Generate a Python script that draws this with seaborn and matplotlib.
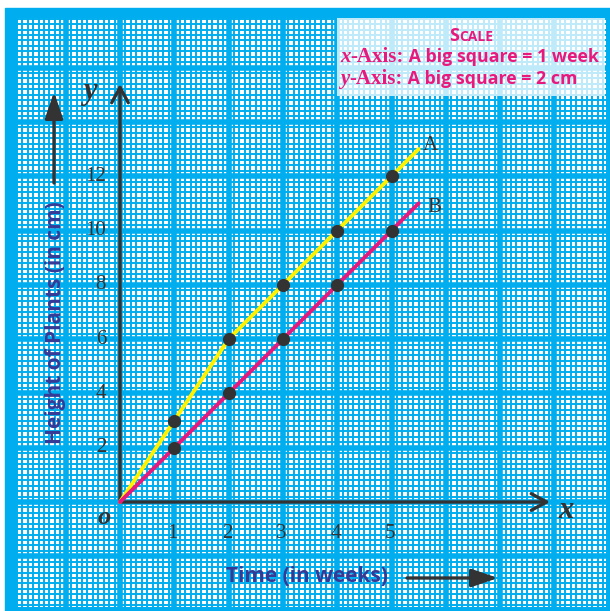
import numpy as np
import matplotlib
matplotlib.use("Agg")
import matplotlib.pyplot as plt
from matplotlib.patches import Rectangle
import seaborn as sns

# data
weeks = [1, 2, 3, 4, 5]
height_a = [3, 6, 8, 10, 12]
height_b = [2, 4, 6, 8, 10]
line_weeks = [0, 1, 2, 3, 4, 5, 5.5]
line_a = [0, 3, 6, 8, 10, 12, 13]
line_b = [0, 2, 4, 6, 8, 10, 11]
x_ticks = [1, 2, 3, 4, 5]
y_ticks = [2, 4, 6, 8, 10, 12]

BLUE = "#00aeef"
NAVY = "#363a95"
PINK = "#e8197d"
YELLOW = "#fff200"
DARK = "#333333"
SERIF = "Liberation Serif"
SANS = "Open Sans"

sns.set_style("white")

W, H = 610, 611
OX, OY, UX = 120, 502, 54.3   # origin in pixels, pixels per big square


def px(x, y):
    # pixel position -> data position (weeks, cm)
    return (x - OX) / UX, (OY - y) / UX * 2


def fp(x, y):
    # pixel position -> figure fraction
    return x / W, 1 - y / H


fig = plt.figure(figsize=(W / 100, H / 100), dpi=100)
fig.patch.set_facecolor("white")
fig.patches.append(Rectangle(fp(5, 611), 1, (611 - 8) / H, transform=fig.transFigure,
                             color=BLUE, zorder=-5))

ax = fig.add_axes([17 / W, 1 - 607 / H, (606 - 17) / W, (607 - 18) / H])
ax.set_facecolor("white")
x0, y0 = px(17, 607)
x1, y1 = px(606, 18)
ax.set_xticks([])
ax.set_yticks([])
for sp in ax.spines.values():
    sp.set_visible(False)

# graph paper
minor_x = np.arange(np.floor(x0), x1 + 0.1, 0.1)
minor_y = np.arange(np.floor(y0 / 2) * 2, y1 + 0.2, 0.2)
ax.vlines(minor_x, y0, y1, color=BLUE, lw=1.4, zorder=1)
ax.hlines(minor_y, x0, x1, color=BLUE, lw=1.4, zorder=1)
major_x = np.arange(np.floor(x0), x1 + 1, 1)
major_y = np.arange(np.floor(y0 / 2) * 2, y1 + 2, 2)
ax.vlines(major_x, y0, y1, color=BLUE, lw=4, zorder=1)
ax.hlines(major_y, x0, x1, color=BLUE, lw=4, zorder=1)

# axes with open arrowheads
ax.annotate("", xy=px(550, OY), xytext=(0, 0),
            arrowprops=dict(arrowstyle="->, head_length=1.1, head_width=0.6",
                            lw=2.4, color=DARK, shrinkA=0, shrinkB=0), zorder=3)
ax.annotate("", xy=px(OX, 84), xytext=(0, 0),
            arrowprops=dict(arrowstyle="->, head_length=1.1, head_width=0.6",
                            lw=2.4, color=DARK, shrinkA=0, shrinkB=0), zorder=3)

# lines and points
sns.lineplot(x=line_weeks, y=line_a, color=YELLOW, lw=2.8, ax=ax, zorder=4)
sns.lineplot(x=line_weeks, y=line_b, color=PINK, lw=2.8, ax=ax, zorder=4)
sns.scatterplot(x=weeks, y=height_a, color=DARK, s=90, linewidth=0, ax=ax, zorder=5)
sns.scatterplot(x=weeks, y=height_b, color=DARK, s=90, linewidth=0, ax=ax, zorder=5)
ax.set_xlim(x0, x1)
ax.set_ylim(y0, y1)
ax.set_xlabel("")
ax.set_ylabel("")

ax.text(*px(430, 146), "A", family=SERIF, fontsize=15, color=DARK, ha="center", va="center")
ax.text(*px(434, 207), "B", family=SERIF, fontsize=15, color=DARK, ha="center", va="center")

# tick numbers
for t in x_ticks:
    ax.text(t - 0.03, px(0, 534)[1], str(t), family=SERIF, fontsize=15, color=DARK,
            ha="center", va="center")
for t in y_ticks:
    ax.text(px(106, 0)[0], t, str(t), family=SERIF, fontsize=15, color=DARK,
            ha="right", va="center")
ax.text(*px(104, 518), "o", family=SERIF, fontsize=19, style="italic", weight="bold",
        color=DARK, ha="center", va="center")
ax.text(*px(566, 511), "x", family=SERIF, fontsize=22, style="italic", weight="bold",
        color=DARK, ha="center", va="center")
ax.text(*px(90, 92), "y", family=SERIF, fontsize=22, style="italic", weight="bold",
        color=DARK, ha="center", va="center")

# axis titles with arrows
ax.text(*px(55, 323), "Height of Plants (in cm)", family=SANS, weight="bold", fontsize=15,
        color=NAVY, rotation=90, ha="center", va="center", zorder=6)
ax.text(*px(307, 577), "Time (in weeks)", family=SANS, weight="bold", fontsize=15,
        color=NAVY, ha="center", va="center", zorder=6)
ax.annotate("", xy=px(54, 92), xytext=px(54, 183),
            arrowprops=dict(arrowstyle="-|>, head_length=1.6, head_width=0.55",
                            lw=2.4, color=DARK, shrinkA=0, shrinkB=0))
ax.annotate("", xy=px(498, 578), xytext=px(407, 578),
            arrowprops=dict(arrowstyle="-|>, head_length=1.6, head_width=0.55",
                            lw=2.4, color=DARK, shrinkA=0, shrinkB=0))

# scale box
box = Rectangle(fp(337, 96), (605 - 337) / W, (96 - 18) / H, transform=fig.transFigure,
                facecolor="white", alpha=0.75, edgecolor="none", zorder=6)
fig.patches.append(box)
fig.text(*fp(449, 41), "S", family=SANS, weight="bold", fontsize=13, color=PINK,
         va="baseline", zorder=7)
fig.text(*fp(459, 41), "CALE", family=SANS, weight="bold", fontsize=10, color=PINK,
         va="baseline", zorder=7)
for yy, axis_name, rest in [(62, "x", " A big square = 1 week"), (84, "y", " A big square = 2 cm")]:
    t1 = fig.text(*fp(340, yy), axis_name, family=SERIF, style="italic", weight="bold",
                  fontsize=15, color=PINK, va="baseline", zorder=7)
    t2 = fig.text(0, 0, "-Axis:", family=SERIF, weight="bold", fontsize=15, color=PINK,
                  va="baseline", zorder=7)
    fig.canvas.draw()
    bb = t1.get_window_extent()
    t2.set_position((bb.x1 / W, fp(0, yy)[1]))
    fig.canvas.draw()
    bb2 = t2.get_window_extent()
    fig.text(bb2.x1 / W, fp(0, yy)[1], rest, family=SANS, weight="bold", fontsize=12.8,
             color=PINK, va="baseline", zorder=7)

fig.savefig("out.png", dpi=100)
